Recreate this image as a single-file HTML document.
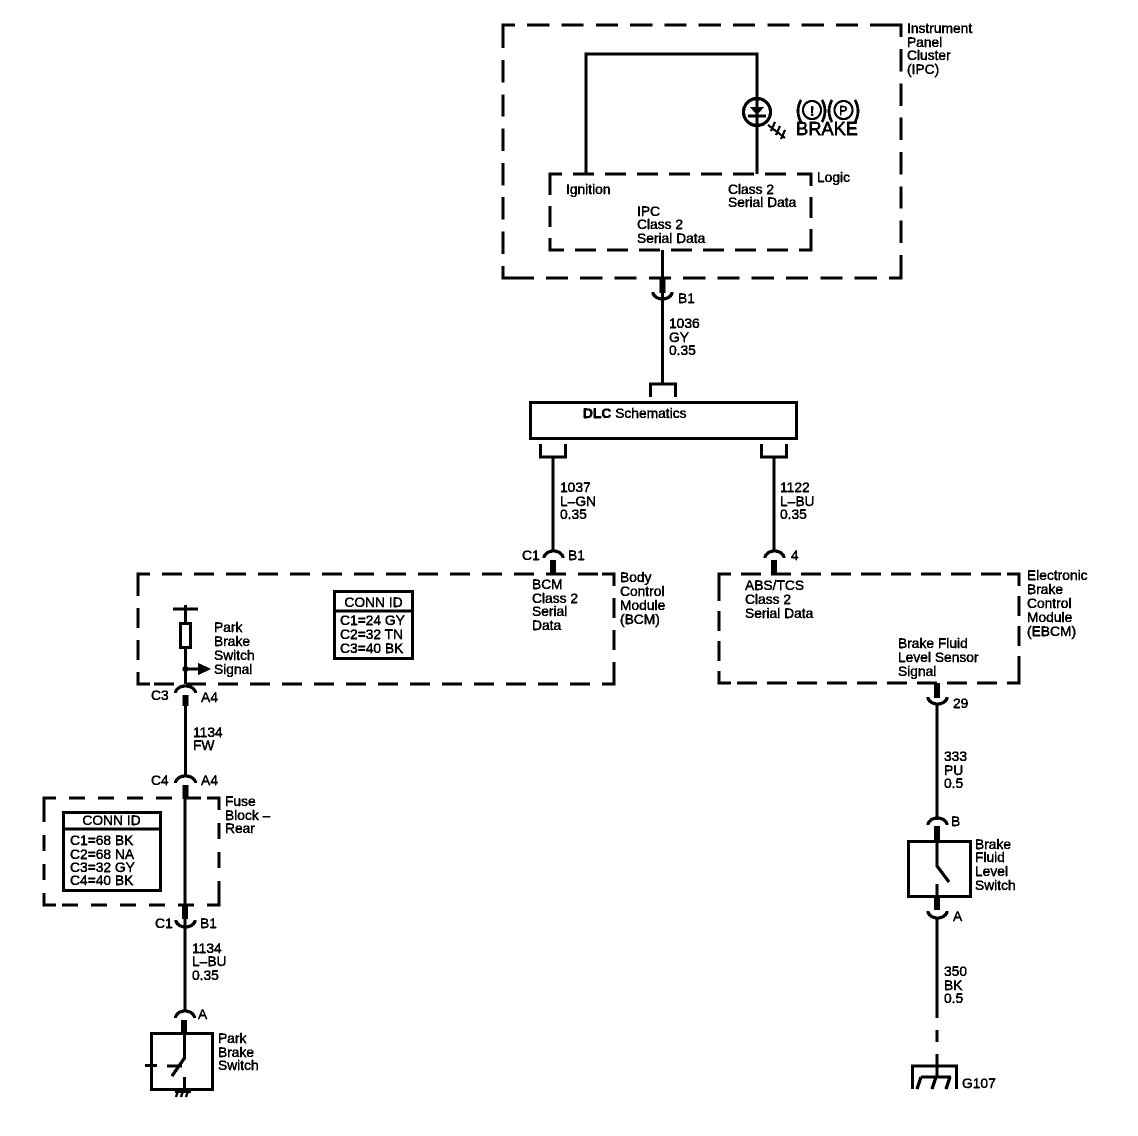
<!DOCTYPE html>
<html>
<head>
<meta charset="utf-8">
<style>
html,body{margin:0;padding:0;background:#fff;width:1138px;height:1136px;overflow:hidden}
svg{display:block}
text{font-family:"Liberation Sans",sans-serif;font-size:13.8px;fill:#000;stroke:#000;stroke-width:.25px}
.b{font-weight:bold}
.w{fill:none;stroke:#000;stroke-width:3}
.t{fill:none;stroke:#000;stroke-width:6}
.d{fill:none;stroke:#000;stroke-width:3}
</style>
</head>
<body>
<svg width="1138" height="1136" viewBox="0 0 1138 1136" xmlns="http://www.w3.org/2000/svg">
<defs>
<filter id="th" x="0" y="0" width="100%" height="100%" color-interpolation-filters="sRGB">
<feComponentTransfer><feFuncR type="discrete" tableValues="0 0 0 1"/><feFuncG type="discrete" tableValues="0 0 0 1"/><feFuncB type="discrete" tableValues="0 0 0 1"/></feComponentTransfer>
</filter>
</defs>
<g filter="url(#th)">
<rect width="1138" height="1136" fill="#fff"/>

<!-- IPC -->
<path class="w" d="M503 37V25H515M889 25H901V37M901 266V278H889M515 278H503V266"/>
<path class="d" style="stroke-dasharray:22 12.300;stroke-dashoffset:22" d="M515 25H889M901 37V266M889 278H515M503 266V37"/>
<path class="w" d="M550 186V174H562M799 174H811V186M811 238V250H799M562 250H550V238"/>
<path class="d" style="stroke-dasharray:21 11;stroke-dashoffset:21" d="M562 174H799M811 186V238M799 250H562M550 238V186"/>
<path class="w" d="M586 174V54H757V174"/>
<circle class="w" cx="757" cy="112" r="13.500"/>
<path d="M750 107H764L757 115Z" fill="#000"/>
<path class="w" d="M748 116H766"/>
<path d="M768 125L785 138M775 122L771 131M780 126L776 135M785 130L781 139" fill="none" stroke="#000" stroke-width="2"/>
<path class="w" d="M801 100Q795 111 801 122M822 100Q828 111 822 122M832 100Q826 111 832 122M855 100Q861 111 855 122" style="stroke-width:2.500"/>
<circle cx="812" cy="110" r="9" fill="none" stroke="#000" stroke-width="2"/>
<circle cx="843.500" cy="110" r="9" fill="none" stroke="#000" stroke-width="2"/>
<text x="810" y="115.500" style="font-size:13px" class="b">!</text>
<text x="839" y="115" style="font-size:12.500px">P</text>
<text x="796" y="135" style="font-size:18.300px;stroke-width:.4px">BRAKE</text>
<text x="907" y="33">Instrument</text>
<text x="907" y="47">Panel</text>
<text x="907" y="60">Cluster</text>
<text x="907" y="74">(IPC)</text>
<text x="817" y="182">Logic</text>
<text x="566" y="194">Ignition</text>
<text x="728" y="194">Class 2</text>
<text x="728" y="207">Serial Data</text>
<text x="637" y="216">IPC</text>
<text x="637" y="229">Class 2</text>
<text x="637" y="243">Serial Data</text>

<!-- IPC to DLC -->
<path class="w" d="M662.500 250V383"/>
<path class="t" d="M662.500 278V293"/>
<path class="w" d="M653 292A9.500 7 0 0 0 672 292"/>
<text x="678" y="303">B1</text>
<text x="669" y="328">1036</text>
<text x="669" y="342">GY</text>
<text x="669" y="355">0.35</text>
<path class="w" d="M650.500 397V384H675.500V397"/>
<rect class="w" x="530.500" y="402.500" width="266" height="36"/>
<text x="583" y="418"><tspan class="b">DLC</tspan> Schematics</text>
<path class="w" d="M540.500 444V457H565.500V444M761.500 444V457H786.500V444"/>
<path class="w" d="M553 457V552M774 457V552"/>
<text x="560" y="492">1037</text>
<text x="560" y="506">L–GN</text>
<text x="560" y="519">0.35</text>
<text x="780" y="492">1122</text>
<text x="780" y="506">L–BU</text>
<text x="780" y="519">0.35</text>
<path class="w" d="M544 558A9.500 7 0 0 1 563 558"/>
<path class="w" d="M765 558A9.500 7 0 0 1 784 558"/>
<path class="t" d="M553 560V574M774 560V574"/>
<text x="522" y="560">C1</text>
<text x="568" y="560">B1</text>
<text x="791" y="560">4</text>

<!-- BCM -->
<path class="w" d="M138 586V574H150M602 574H614V586M614 672V684H602M150 684H138V672"/>
<path class="d" style="stroke-dasharray:20 12;stroke-dashoffset:20" d="M150 574H602M614 586V672M602 684H150M138 672V586"/>
<text x="532" y="589">BCM</text>
<text x="532" y="603">Class 2</text>
<text x="532" y="616">Serial</text>
<text x="532" y="630">Data</text>
<text x="620" y="582">Body</text>
<text x="620" y="596">Control</text>
<text x="620" y="610">Module</text>
<text x="620" y="624">(BCM)</text>
<rect class="w" x="334.500" y="591.500" width="78" height="67"/>
<path class="w" d="M334 611H413"/>
<text x="373.500" y="607" text-anchor="middle">CONN ID</text>
<text x="340" y="625">C1=24 GY</text>
<text x="340" y="639">C2=32 TN</text>
<text x="340" y="653">C3=40 BK</text>
<path class="w" d="M173 609H198"/>
<path class="w" d="M185.500 605V684"/>
<rect x="180.500" y="623.500" width="10" height="24" fill="#fff" stroke="#000" stroke-width="3"/>
<circle cx="185.500" cy="669" r="3" fill="#000"/>
<path class="w" d="M185 669H200"/>
<path d="M198 663L211 669L198 675Z" fill="#000"/>
<text x="214" y="632">Park</text>
<text x="214" y="646">Brake</text>
<text x="214" y="660">Switch</text>
<text x="214" y="674">Signal</text>

<!-- BCM to fuse -->
<path class="w" d="M175.500 693A10 7 0 0 1 195.500 693"/>
<path class="t" d="M185.500 695V706"/>
<path class="w" d="M185.500 706V777"/>
<text x="151" y="700">C3</text>
<text x="201" y="702">A4</text>
<text x="193" y="737">1134</text>
<text x="193" y="750">FW</text>
<path class="w" d="M175.500 783A10 7 0 0 1 195.500 783"/>
<path class="t" d="M185.500 785V799"/>
<text x="151" y="785">C4</text>
<text x="201" y="785">A4</text>

<!-- Fuse block -->
<path class="w" d="M44 810V798H56M207 798H219V810M219 893V905H207M56 905H44V893"/>
<path class="d" style="stroke-dasharray:16 13;stroke-dashoffset:16" d="M56 798H207M219 810V893M207 905H56M44 893V810"/>
<text x="225" y="806">Fuse</text>
<text x="225" y="820">Block –</text>
<text x="225" y="833">Rear</text>
<rect class="w" x="63.500" y="812.500" width="97" height="78"/>
<path class="w" d="M63 829H161"/>
<text x="111.500" y="825" text-anchor="middle">CONN ID</text>
<text x="70" y="845">C1=68 BK</text>
<text x="70" y="859">C2=68 NA</text>
<text x="70" y="872">C3=32 GY</text>
<text x="70" y="885">C4=40 BK</text>
<path class="w" d="M185 799V1012"/>
<path class="t" d="M185 905V919"/>
<path class="w" d="M176 920A9.500 7 0 0 0 195 920"/>
<text x="155" y="928">C1</text>
<text x="200" y="928">B1</text>
<text x="192" y="953">1134</text>
<text x="192" y="966">L–BU</text>
<text x="192" y="980">0.35</text>

<!-- Park brake switch -->
<path class="w" d="M175.500 1018A9.500 7 0 0 1 194.500 1018"/>
<path class="t" d="M184 1020V1034"/>
<text x="198" y="1019">A</text>
<rect class="w" x="151.500" y="1033.500" width="61" height="56"/>
<path class="w" d="M184.500 1034V1058L172 1076"/>
<path class="w" d="M167 1066H182M145 1065.500H157M184.500 1077V1090"/>
<path d="M176 1097L178 1091M181 1097L183 1091M186 1097L188 1091M175 1092H191" fill="none" stroke="#000" stroke-width="2"/>
<text x="218" y="1043">Park</text>
<text x="218" y="1057">Brake</text>
<text x="218" y="1070">Switch</text>

<!-- EBCM -->
<path class="w" d="M719 586V574H731M1007 574H1019V586M1019 671V683H1007M731 683H719V671"/>
<path class="d" style="stroke-dasharray:20 10;stroke-dashoffset:20" d="M731 574H1007M1019 586V671M1007 683H731M719 671V586"/>
<text x="745" y="590">ABS/TCS</text>
<text x="745" y="604">Class 2</text>
<text x="745" y="618">Serial Data</text>
<text x="898" y="648">Brake Fluid</text>
<text x="898" y="662">Level Sensor</text>
<text x="898" y="676">Signal</text>
<text x="1027" y="580">Electronic</text>
<text x="1027" y="594">Brake</text>
<text x="1027" y="608">Control</text>
<text x="1027" y="622">Module</text>
<text x="1027" y="636">(EBCM)</text>

<!-- EBCM to switch -->
<path class="t" d="M937 683V698"/>
<path class="w" d="M928 697A9.500 7 0 0 0 947 697"/>
<path class="w" d="M937 703V820"/>
<text x="953" y="708">29</text>
<text x="944" y="761">333</text>
<text x="944" y="775">PU</text>
<text x="944" y="788">0.5</text>
<path class="w" d="M928 825A9.500 7 0 0 1 947 825"/>
<text x="951" y="826">B</text>
<path class="t" d="M937 826V842"/>
<rect class="w" x="908.500" y="841.500" width="62" height="55"/>
<path class="w" d="M937 842V866L949 882"/>
<path class="w" d="M937 884V898"/>
<path class="t" d="M937 897V910"/>
<path class="w" d="M928 911A9.500 7 0 0 0 947 911"/>
<text x="953" y="921">A</text>
<path class="w" d="M937 918V1018M937 1030V1042M937 1054V1077"/>
<text x="975" y="849">Brake</text>
<text x="975" y="862">Fluid</text>
<text x="975" y="876">Level</text>
<text x="975" y="890">Switch</text>
<text x="944" y="976">350</text>
<text x="944" y="990">BK</text>
<text x="944" y="1003">0.5</text>
<path class="w" d="M912.500 1089V1066H956.500V1089"/>
<path class="w" d="M921 1077H951"/>
<path class="w" d="M921 1077L917 1089M936 1077L932 1089M950 1077L946 1089"/>
<text x="962" y="1088">G107</text>
</g>
</svg>
</body>
</html>
